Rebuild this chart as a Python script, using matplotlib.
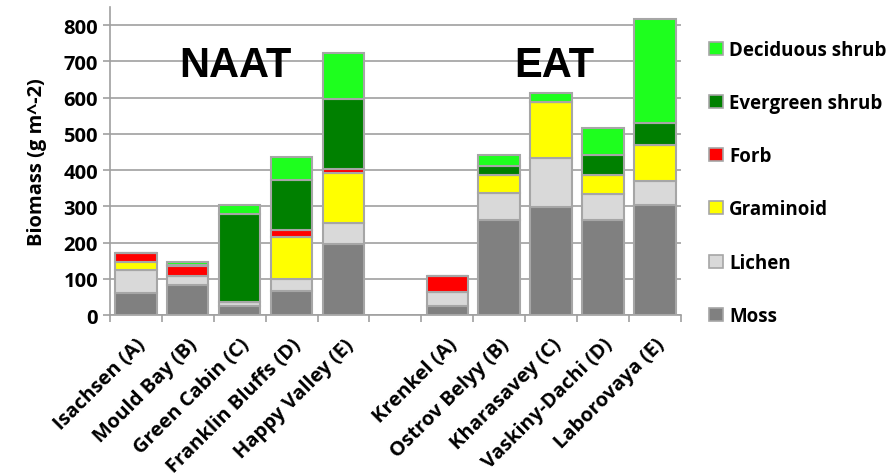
import numpy as np
import matplotlib
matplotlib.use('Agg')
import matplotlib.pyplot as plt
from matplotlib.patches import Patch

plt.rcParams['font.family'] = ['Open Sans', 'DejaVu Sans']
plt.rcParams['font.weight'] = 'bold'

# sites, NAAT then EAT (one empty slot between the groups)
sites = ['Isachsen (A)', 'Mould Bay (B)', 'Green Cabin (C)', 'Franklin Bluffs (D)', 'Happy Valley (E)',
         'Krenkel (A)', 'Ostrov Belyy (B)', 'Kharasavey (C)', 'Vaskiny-Dachi (D)', 'Laborovaya (E)']

# biomass per plant functional type, g m^-2
moss      = [61, 84, 26, 67, 195, 26, 261, 298, 263, 303]
lichen    = [62, 23,  9, 33,  60, 37,  77, 136,  72,  66]
graminoid = [23,  2,  0, 115, 138, 0,  48, 155,  51, 100]
forb      = [26, 27,  0, 21,  11, 46,   0,   0,   0,   0]
evergreen = [ 0,  2, 245, 136, 191, 0, 26,   0,  55,  60]
deciduous = [ 0,  9, 25, 63, 128,  0,  31,  23,  74, 287]

layers = [('Moss', moss, '#808080'),
          ('Lichen', lichen, '#d9d9d9'),
          ('Graminoid', graminoid, '#ffff00'),
          ('Forb', forb, '#ff0000'),
          ('Evergreen shrub', evergreen, '#008000'),
          ('Deciduous shrub', deciduous, '#1eff1e')]

x = np.array(list(range(5)) + list(range(6, 11)))

fig = plt.figure(figsize=(8.93, 4.77), dpi=100)
ax = fig.add_axes([0.123, 0.3375, 0.6396, 0.6455])

bottom = np.zeros(len(sites))
handles = []
for name, vals, col in layers:
    vals = np.array(vals, dtype=float)
    ax.bar(x, vals, bottom=bottom, width=0.8, color=col, edgecolor='#a6a6a6',
           linewidth=1.5, zorder=3)
    bottom += vals
    handles.append(Patch(facecolor=col, edgecolor='#a6a6a6', linewidth=1.2, label=name))

ax.set_xlim(-0.5, 10.5)
ax.set_ylim(0, 850)
ax.set_yticks(np.arange(0, 801, 100))
ax.yaxis.grid(True, color='#a0a0a0', linewidth=1.2, zorder=0)
ax.set_axisbelow(True)

ax.set_xticks(x)
ax.set_xticklabels(sites, rotation=45, ha='right', rotation_mode='anchor',
                   fontsize=14.5, fontweight='bold')
ax.set_xticks(np.arange(-0.5, 11, 1), minor=True)
ax.tick_params(axis='x', which='major', length=0, pad=14)
ax.tick_params(axis='x', which='minor', length=5, color='#a0a0a0', width=1.2)
ax.tick_params(axis='y', length=5, color='#a0a0a0', width=1.2, labelsize=14.5)
for lb in ax.get_yticklabels():
    lb.set_fontweight('bold')

for s in ['top', 'right']:
    ax.spines[s].set_visible(False)
for s in ['left', 'bottom']:
    ax.spines[s].set_color('#a0a0a0')
    ax.spines[s].set_linewidth(1.2)

ax.set_ylabel('Biomass (g m^-2)', fontsize=14.5, fontweight='bold', labelpad=12)

ax.text(1.91, 690, 'NAAT', fontsize=30, fontweight='bold', family='Liberation Sans',
        ha='center', va='center')
ax.text(8.06, 690, 'EAT', fontsize=30, fontweight='bold', family='Liberation Sans',
        ha='center', va='center')

fig.legend(handles=handles[::-1], loc='upper left', bbox_to_anchor=(0.786, 0.93),
           frameon=False, prop={'size': 13.5, 'weight': 'bold'}, handlelength=0.7,
           handleheight=0.7, handletextpad=0.35, labelspacing=1.77, borderaxespad=0)

fig.savefig('out.png', dpi=100)
